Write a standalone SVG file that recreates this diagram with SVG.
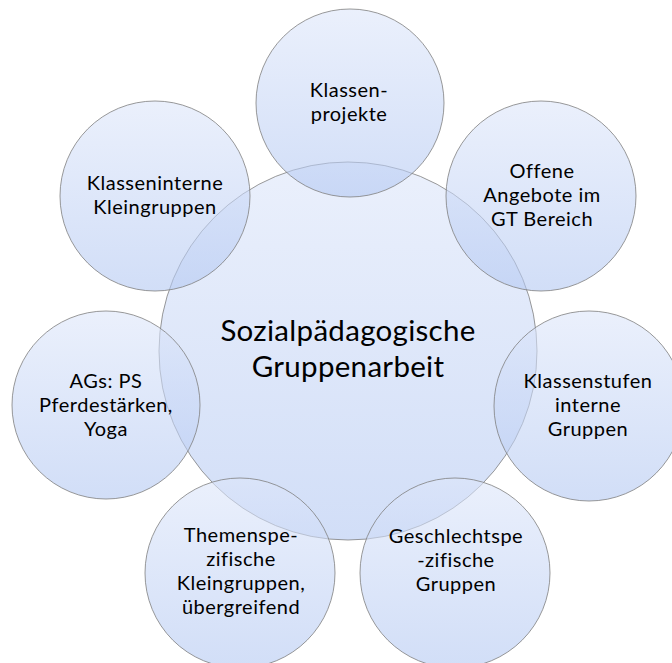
<svg xmlns="http://www.w3.org/2000/svg" width="672" height="663" viewBox="0 0 672 663">
<defs>
<linearGradient id="g" x1="0" y1="0" x2="0" y2="1">
<stop offset="0" stop-color="#dde6fa"/>
<stop offset="1" stop-color="#b3c8f2"/>
</linearGradient>
</defs>
<style>
circle{fill:url(#g);fill-opacity:0.6;stroke:#7f7f7f;stroke-opacity:0.8;stroke-width:1}
text{font-family:Lato,"Open Sans","Liberation Sans",sans-serif;fill:#000;text-anchor:middle}
.s{font-size:20px;letter-spacing:0.5px}
.c{font-size:29.5px;letter-spacing:0.3px}
</style>
<rect width="672" height="663" fill="#fff"/>
<g id="center">
<circle cx="348" cy="351" r="189"/>
<text class="c" x="348" y="341">Sozialpädagogische</text>
<text class="c" x="348" y="377">Gruppenarbeit</text>
</g>
<g id="n1">
<circle cx="350" cy="103" r="94"/>
<text class="s" x="349" y="97">Klassen-</text>
<text class="s" x="349" y="121">projekte</text>
</g>
<g id="n2">
<circle cx="541" cy="196" r="95"/>
<text class="s" x="542" y="178">Offene</text>
<text class="s" x="542" y="202">Angebote im</text>
<text class="s" x="542" y="226">GT Bereich</text>
</g>
<g id="n3">
<circle cx="589" cy="406" r="95"/>
<text class="s" x="588" y="388">Klassenstufen</text>
<text class="s" x="588" y="412">interne</text>
<text class="s" x="588" y="436">Gruppen</text>
</g>
<g id="n4">
<circle cx="455" cy="573" r="95"/>
<text class="s" x="456" y="543">Geschlechtspe</text>
<text class="s" x="456" y="567">-zifische</text>
<text class="s" x="456" y="591">Gruppen</text>
</g>
<g id="n5">
<circle cx="240" cy="573" r="95"/>
<text class="s" x="241" y="542">Themenspe-</text>
<text class="s" x="241" y="566">zifische</text>
<text class="s" x="241" y="590">Kleingruppen,</text>
<text class="s" x="241" y="614">übergreifend</text>
</g>
<g id="n6">
<circle cx="106" cy="405" r="94"/>
<text class="s" x="106" y="388">AGs: PS</text>
<text class="s" x="106" y="412">Pferdestärken,</text>
<text class="s" x="106" y="436">Yoga</text>
</g>
<g id="n7">
<circle cx="155" cy="196" r="95"/>
<text class="s" x="155" y="190">Klasseninterne</text>
<text class="s" x="155" y="214">Kleingruppen</text>
</g>
<g id="connectors"/>
</svg>
